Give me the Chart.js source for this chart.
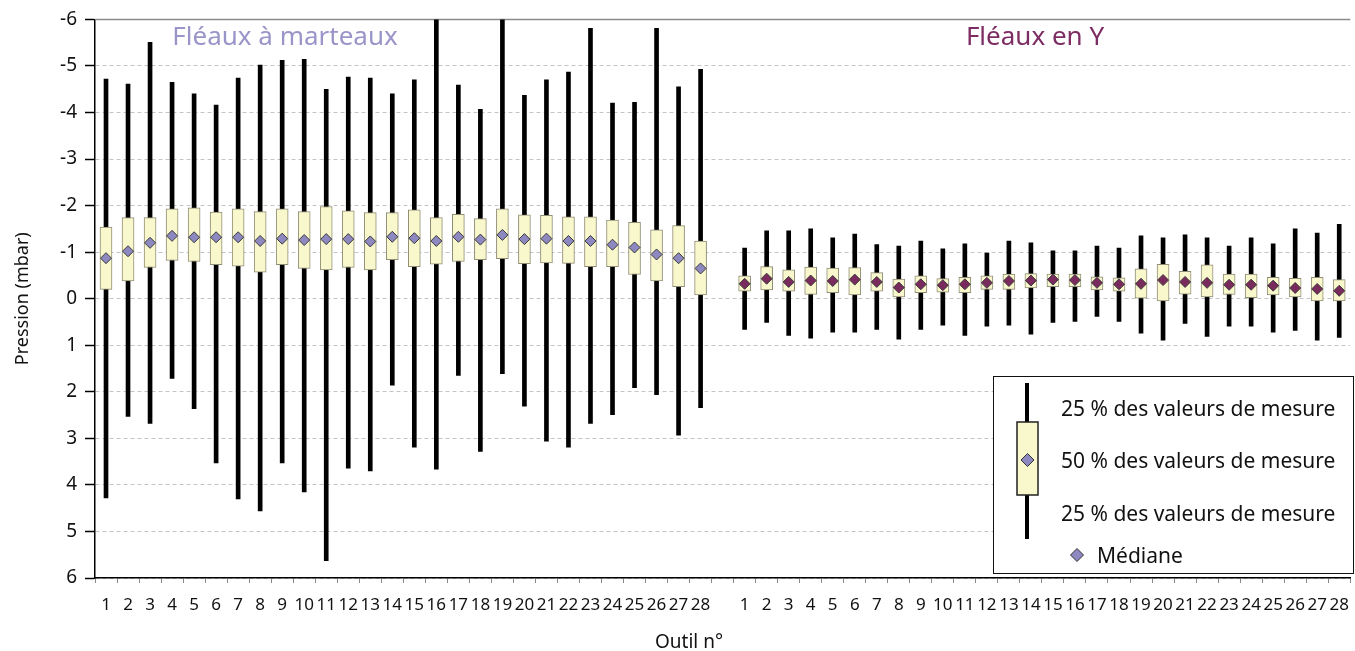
<!DOCTYPE html>
<html>
<head>
<meta charset="utf-8">
<title>Pression par outil</title>
<script src="https://cdn.jsdelivr.net/npm/chart.js@4.4.1/dist/chart.umd.min.js"></script>
<style>
  html, body { margin: 0; padding: 0; background: #fff; overflow: hidden; }
  #wrap { position: relative; width: 1361px; height: 651px; }
</style>
</head>
<body>
<div id="wrap"><canvas id="pressionChart"></canvas></div>
<script>
// numéros d'outil (axe x)
const toolLabels = ['1', '2', '3', '4', '5', '6', '7', '8', '9', '10', '11', '12', '13', '14',
    '15', '16', '17', '18', '19', '20', '21', '22', '23', '24', '25', '26', '27', '28'];
const yTicks = [-6, -5, -4, -3, -2, -1, 0, 1, 2, 3, 4, 5, 6];

// Fléaux à marteaux (mbar) : extrémité haute, boîte haute, médiane, boîte basse, extrémité basse
const marteauxLow = [-4.72, -4.61, -5.51, -4.65, -4.40, -4.16, -4.74, -5.02, -5.12, -5.14, -4.50, -4.76, -4.74, -4.40,
    -4.70, -6.3, -4.59, -4.07, -6.3, -4.37, -4.70, -4.87, -5.81, -4.20, -4.22, -5.81, -4.55, -4.93];
const marteauxQ1 = [-1.54, -1.74, -1.74, -1.93, -1.95, -1.86, -1.93, -1.87, -1.93, -1.87, -1.98, -1.89, -1.85, -1.85,
    -1.91, -1.74, -1.81, -1.72, -1.93, -1.80, -1.79, -1.76, -1.76, -1.69, -1.64, -1.48, -1.57, -1.24];
const marteauxMedian = [-0.87, -1.02, -1.20, -1.35, -1.32, -1.32, -1.32, -1.24, -1.29, -1.26, -1.28, -1.28, -1.23, -1.33,
    -1.30, -1.24, -1.33, -1.27, -1.37, -1.28, -1.29, -1.24, -1.24, -1.16, -1.10, -0.95, -0.87, -0.65];
const marteauxQ3 = [-0.20, -0.38, -0.67, -0.82, -0.80, -0.73, -0.70, -0.57, -0.73, -0.65, -0.62, -0.67, -0.62, -0.84,
    -0.69, -0.74, -0.80, -0.84, -0.86, -0.75, -0.77, -0.76, -0.69, -0.69, -0.52, -0.38, -0.26, -0.08];
const marteauxHigh = [4.28, 2.53, 2.68, 1.71, 2.36, 3.53, 4.30, 4.56, 3.53, 4.15, 5.63, 3.64, 3.70, 1.86,
    3.19, 3.66, 1.65, 3.28, 1.61, 2.31, 3.06, 3.19, 2.68, 2.49, 1.91, 2.06, 2.93, 2.34];

// Fléaux en Y (mbar)
const fleauxYLow = [-1.09, -1.46, -1.46, -1.50, -1.31, -1.39, -1.16, -1.13, -1.24, -1.07, -1.18, -0.98, -1.24, -1.20,
    -1.03, -1.03, -1.13, -1.09, -1.35, -1.31, -1.37, -1.31, -1.13, -1.31, -1.18, -1.50, -1.41, -1.60];
const fleauxYQ1 = [-0.49, -0.69, -0.62, -0.68, -0.66, -0.67, -0.56, -0.42, -0.49, -0.43, -0.46, -0.49, -0.53, -0.54,
    -0.53, -0.53, -0.47, -0.45, -0.64, -0.74, -0.59, -0.73, -0.53, -0.53, -0.46, -0.44, -0.46, -0.41];
const fleauxYMedian = [-0.32, -0.43, -0.36, -0.39, -0.38, -0.41, -0.36, -0.24, -0.31, -0.29, -0.31, -0.34, -0.38, -0.39,
    -0.41, -0.40, -0.34, -0.31, -0.32, -0.40, -0.36, -0.34, -0.30, -0.30, -0.28, -0.23, -0.21, -0.17];
const fleauxYQ3 = [-0.16, -0.19, -0.16, -0.09, -0.13, -0.08, -0.16, -0.04, -0.13, -0.14, -0.13, -0.20, -0.20, -0.23,
    -0.26, -0.26, -0.19, -0.16, -0.01, 0.05, -0.10, -0.04, -0.09, -0.02, -0.08, -0.04, 0.05, 0.05];
const fleauxYHigh = [0.66, 0.51, 0.79, 0.85, 0.72, 0.72, 0.66, 0.87, 0.66, 0.57, 0.79, 0.59, 0.57, 0.76,
    0.51, 0.49, 0.38, 0.49, 0.74, 0.89, 0.53, 0.81, 0.59, 0.59, 0.72, 0.68, 0.89, 0.83];

const lavender = '#8d88c0';
const maroon = '#7a2b5e';
const boxFill = '#f9f7cc';
const boxBorder = '#8f8d75';
const fontFamily = '"Noto Sans", "DejaVu Sans", sans-serif';

// une catégorie vide entre les deux groupes
const categories = [...toolLabels, '', ...toolLabels];
const none = toolLabels.map(() => null);
const pairs = (a, b) => a.map((v, i) => [v, b[i]]);

const whiskerData = [...pairs(marteauxLow, marteauxHigh), null, ...pairs(fleauxYLow, fleauxYHigh)];
const boxData = [...pairs(marteauxQ1, marteauxQ3), null, ...pairs(fleauxYQ1, fleauxYQ3)];
const medianMarteaux = [...marteauxMedian, null, ...none];
const medianFleauxY = [...none, null, ...fleauxYMedian];

function diamond(ctx, x, y, r, color) {
    ctx.save();
    ctx.beginPath();
    ctx.moveTo(x - r, y);
    ctx.lineTo(x, y - r);
    ctx.lineTo(x + r, y);
    ctx.lineTo(x, y + r);
    ctx.closePath();
    ctx.fillStyle = color;
    ctx.fill();
    ctx.lineWidth = 1;
    ctx.strokeStyle = '#333';
    ctx.stroke();
    ctx.restore();
}

const decorations = {
    id: 'decorations',
    beforeDatasetsDraw(chart) {
        const {ctx, chartArea} = chart;
        // trait haut du cadre
        ctx.save();
        ctx.strokeStyle = '#8a8a8a';
        ctx.lineWidth = 1.5;
        ctx.beginPath();
        ctx.moveTo(chartArea.left, chartArea.top);
        ctx.lineTo(chartArea.right, chartArea.top);
        ctx.stroke();
        ctx.restore();
    },
    afterDraw(chart) {
        const ctx = chart.ctx;
        ctx.save();
        // titres des groupes
        ctx.font = '26px ' + fontFamily;
        ctx.textAlign = 'center';
        ctx.textBaseline = 'alphabetic';
        ctx.fillStyle = '#9a95c9';
        ctx.fillText('Fléaux à marteaux', 285, 45);
        ctx.fillStyle = '#7d2d63';
        ctx.fillText('Fléaux en Y', 1035, 45);

        // titre de l'axe x
        ctx.font = '19px ' + fontFamily;
        ctx.fillStyle = '#111';
        ctx.fillText('Outil n°', 689, 648);

        // légende
        ctx.fillStyle = '#fff';
        ctx.fillRect(993.5, 376.5, 360, 197);
        ctx.strokeStyle = '#111';
        ctx.lineWidth = 1;
        ctx.strokeRect(993.5, 376.5, 360, 197);

        ctx.strokeStyle = '#000';
        ctx.lineWidth = 4;
        ctx.beginPath();
        ctx.moveTo(1027, 383);
        ctx.lineTo(1027, 539);
        ctx.stroke();

        ctx.fillStyle = boxFill;
        ctx.fillRect(1017, 422, 21, 73);
        ctx.strokeStyle = '#222';
        ctx.lineWidth = 1.5;
        ctx.strokeRect(1017, 422, 21, 73);
        diamond(ctx, 1027.5, 460, 6.5, lavender);

        ctx.font = '21px ' + fontFamily;
        ctx.textAlign = 'left';
        ctx.textBaseline = 'middle';
        ctx.fillStyle = '#111';
        ctx.fillText('25 % des valeurs de mesure', 1061, 410);
        ctx.fillText('50 % des valeurs de mesure', 1061, 462);
        ctx.fillText('25 % des valeurs de mesure', 1061, 515);
        diamond(ctx, 1077, 555, 6.5, lavender);
        ctx.fillStyle = '#111';
        ctx.fillText('Médiane', 1097, 557);
        ctx.restore();
    }
};

new Chart(document.getElementById('pressionChart'), {
    type: 'bar',
    data: {
        labels: categories,
        datasets: [
            {
                type: 'line',
                data: medianMarteaux,
                showLine: false,
                pointStyle: 'rectRot',
                pointRadius: 5.5,
                pointBackgroundColor: lavender,
                pointBorderColor: '#3a3a3a',
                pointBorderWidth: 1,
                order: 0
            },
            {
                type: 'line',
                data: medianFleauxY,
                showLine: false,
                pointStyle: 'rectRot',
                pointRadius: 5.5,
                pointBackgroundColor: maroon,
                pointBorderColor: '#3a3a3a',
                pointBorderWidth: 1,
                order: 0
            },
            {
                data: boxData,
                grouped: false,
                barThickness: 12,
                backgroundColor: boxFill,
                borderColor: boxBorder,
                borderWidth: 1,
                borderSkipped: false,
                order: 1
            },
            {
                data: whiskerData,
                grouped: false,
                barThickness: 4,
                backgroundColor: '#000',
                borderWidth: 0,
                order: 2
            }
        ]
    },
    options: {
        responsive: true,
        maintainAspectRatio: false,
        animation: false,
        layout: { padding: { top: 17, left: 0, right: 0, bottom: 0 } },
        plugins: {
            legend: { display: false },
            tooltip: { enabled: false }
        },
        scales: {
            x: {
                offset: true,
                afterFit: scale => { scale.height = 73; },
                grid: {
                    drawOnChartArea: false,
                    tickLength: 5,
                    tickColor: '#8a8a8a',
                    offset: true
                },
                border: { color: '#000', width: 1.5 },
                ticks: {
                    autoSkip: false,
                    maxRotation: 0,
                    padding: 12,
                    color: '#111',
                    font: { family: fontFamily, size: 17 }
                }
            },
            y: {
                reverse: true,
                min: yTicks[0],
                max: yTicks[yTicks.length - 1],
                afterFit: scale => { scale.width = 95; },
                afterBuildTicks: scale => { scale.ticks = yTicks.map(v => ({ value: v })); },
                grid: {
                    color: '#c4c4c4',
                    lineWidth: 1,
                    tickLength: 10,
                    tickColor: '#000',
                    tickWidth: 1.5
                },
                border: { color: '#000', width: 1.5, dash: [4, 3] },
                ticks: {
                    padding: 8,
                    color: '#111',
                    font: { family: fontFamily, size: 19 }
                },
                title: {
                    display: true,
                    text: 'Pression (mbar)',
                    color: '#111',
                    padding: { top: 12, bottom: 0 },
                    font: { family: fontFamily, size: 18 }
                }
            }
        }
    },
    plugins: [decorations]
});
</script>
</body>
</html>
